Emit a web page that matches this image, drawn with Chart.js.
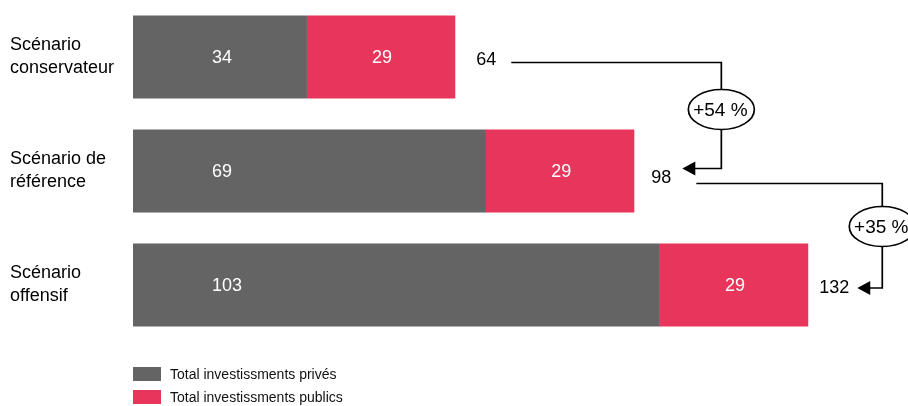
<!DOCTYPE html>
<html>
<head>
<meta charset="utf-8">
<script src="https://cdn.jsdelivr.net/npm/chart.js@4.4.1/dist/chart.umd.min.js"></script>
<style>
    body { margin: 0; background: #fff; }
    canvas { display: block; }
</style>
</head>
<body>
<canvas id="scenarioChart" width="908" height="406"></canvas>
<script>
// 데이터
const categories = [['Scénario', 'conservateur'], ['Scénario de', 'référence'], ['Scénario', 'offensif']];
const seriesNames = ['Total investissments privés', 'Total investissments publics'];
const privateValues = [34, 69, 103];
const publicValues = [29, 29, 29];
const totalLabels = [64, 98, 132];
const growthLabels = ['+54 %', '+35 %'];

const GRAY = '#646464';
const RED = '#E8355B';
const FONT = '"Liberation Sans", Arial, sans-serif';

// 값 라벨 (막대 안)
const barValuePlugin = {
    id: 'barValues',
    afterDatasetsDraw(chart) {
        const ctx = chart.ctx;
        ctx.save();
        ctx.font = '18px ' + FONT;
        ctx.fillStyle = '#fff';
        ctx.textBaseline = 'middle';
        chart.data.datasets.forEach((ds, di) => {
            chart.getDatasetMeta(di).data.forEach((bar, i) => {
                if (di === 0) {
                    // 민간 투자: 막대 왼쪽 기준 고정 위치
                    ctx.textAlign = 'left';
                    ctx.fillText(ds.data[i], bar.base + 79, bar.y + 1);
                } else {
                    ctx.textAlign = 'center';
                    ctx.fillText(ds.data[i], (bar.x + bar.base) / 2 + 1, bar.y + 1);
                }
            });
        });
        ctx.restore();
    }
};

// 합계 + 증가율 화살표
const totalsPlugin = {
    id: 'totals',
    afterDraw(chart) {
        const ctx = chart.ctx;
        const xs = chart.scales.x;
        const ys = chart.scales.y;
        const labelGap = [21, 17, 11];
        const labelDy = [2, 6, 2];
        const ends = [];

        ctx.save();
        ctx.font = '18px ' + FONT;
        ctx.fillStyle = '#000';
        ctx.textAlign = 'left';
        ctx.textBaseline = 'middle';
        totalLabels.forEach((t, i) => {
            const barEnd = xs.getPixelForValue(privateValues[i] + publicValues[i]);
            const cy = ys.getPixelForValue(i);
            const x = barEnd + labelGap[i];
            ctx.fillText(t, x, cy + labelDy[i] + 1);
            ends.push({ x: x + ctx.measureText(String(t)).width, y: cy });
        });

        // 연결선
        const startGap = [15, 25];
        const startDy = [5.5, 12.5];
        const arrowGap = [11, 8];
        const arrowDy = [-2.5, 3];
        const vertOffset = [50, 33];
        const ellipseDy = [47, 43];

        ctx.strokeStyle = '#000';
        ctx.lineWidth = 1.7;
        ctx.font = '19px ' + FONT;
        growthLabels.forEach((g, i) => {
            const from = ends[i];
            const to = ends[i + 1];
            const x0 = from.x + startGap[i];
            const y0 = from.y + startDy[i];
            const vx = to.x + vertOffset[i];
            const y1 = to.y + arrowDy[i];
            const tip = to.x + arrowGap[i];

            ctx.beginPath();
            ctx.moveTo(x0, y0);
            ctx.lineTo(vx, y0);
            ctx.lineTo(vx, y1);
            ctx.lineTo(tip + 12, y1);
            ctx.stroke();

            ctx.beginPath();
            ctx.moveTo(tip, y1);
            ctx.lineTo(tip + 13, y1 - 7);
            ctx.lineTo(tip + 13, y1 + 7);
            ctx.closePath();
            ctx.fillStyle = '#000';
            ctx.fill();

            const ey = y0 + ellipseDy[i];
            ctx.beginPath();
            ctx.ellipse(vx, ey, 33, 20, 0, 0, Math.PI * 2);
            ctx.fillStyle = '#fff';
            ctx.fill();
            ctx.stroke();

            ctx.fillStyle = '#000';
            ctx.textAlign = 'center';
            ctx.fillText(g, vx - 1, ey + 1);
            ctx.textAlign = 'left';
        });

        // 범례
        ctx.font = '14px ' + FONT;
        const colors = [GRAY, RED];
        seriesNames.forEach((name, i) => {
            const top = 367 + i * 23;
            ctx.fillStyle = colors[i];
            ctx.fillRect(chart.chartArea.left, top, 28, 14);
            ctx.fillStyle = '#111';
            ctx.fillText(name, chart.chartArea.left + 37, top + 8);
        });
        ctx.restore();
    }
};

const scenarioChart = new Chart(document.getElementById('scenarioChart'), {
    type: 'bar',
    data: {
        labels: categories,
        datasets: [
            { label: seriesNames[0], data: privateValues, backgroundColor: GRAY },
            { label: seriesNames[1], data: publicValues, backgroundColor: RED }
        ]
    },
    options: {
        indexAxis: 'y',
        responsive: false,
        animation: false,
        devicePixelRatio: 1,
        datasets: {
            bar: { barPercentage: 0.73, categoryPercentage: 1 }
        },
        layout: { padding: { left: 10, right: 0, top: 0, bottom: 64 } },
        plugins: {
            legend: { display: false },
            tooltip: { enabled: false }
        },
        scales: {
            x: {
                stacked: true,
                display: false,
                min: 0,
                max: 151.5
            },
            y: {
                stacked: true,
                grid: { display: false },
                border: { display: false },
                afterFit(scale) {
                    scale.width = 123;
                    scale.paddingTop = 0;
                    scale.paddingBottom = 0;
                },
                ticks: {
                    crossAlign: 'far',
                    color: '#000',
                    font: { family: FONT, size: 18, lineHeight: 1.28 }
                }
            }
        }
    },
    plugins: [barValuePlugin, totalsPlugin]
});
</script>
</body>
</html>
